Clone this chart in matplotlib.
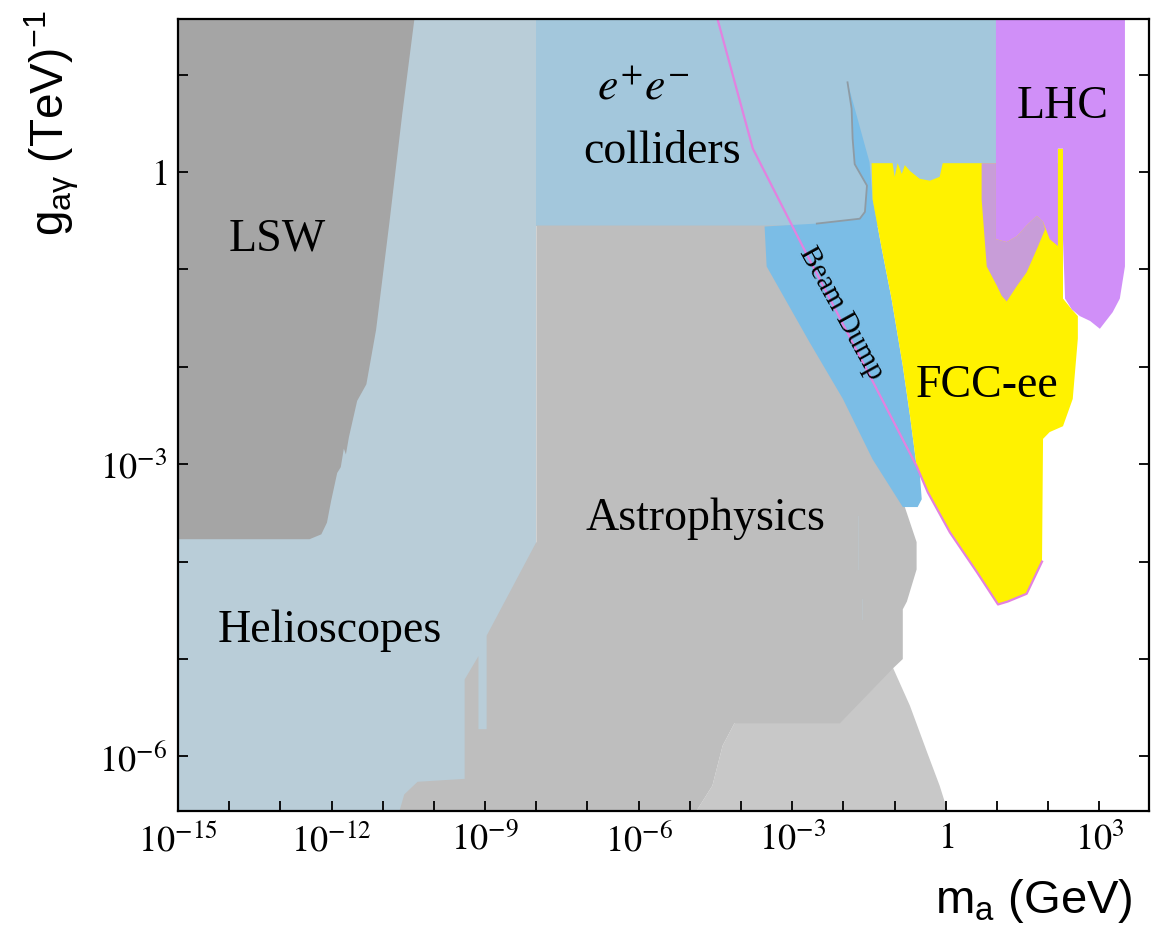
import numpy as np
import matplotlib
matplotlib.use("Agg")
import matplotlib.pyplot as plt
from matplotlib.ticker import FixedLocator, FuncFormatter, NullLocator

plt.rcParams['font.family'] = ['Liberation Serif', 'DejaVu Serif']
plt.rcParams['mathtext.fontset'] = 'stix'
plt.rcParams['mathtext.rm'] = 'Liberation Sans'
plt.rcParams['mathtext.it'] = 'Liberation Sans:italic'
plt.rcParams['mathtext.bf'] = 'Liberation Sans:bold'
plt.rcParams['mathtext.sf'] = 'Liberation Sans'

# ---------------- data (log10 of m_a [GeV], log10 of g [TeV^-1]) ----------------
x_lim = (-15.0, 3.97)
y_lim = (-6.56, 1.57)
x_ticks = list(range(-15, 4))
y_ticks = list(range(-6, 2))

helio_x = [-15.5, -8.0, -8.0, -15.5]
helio_y = [1.7, 1.7, -6.7, -6.7]

lsw_x = [-15.5, -10.35, -10.62, -10.87, -11.13, -11.32, -11.50, -11.66, -11.72,
         -11.76, -11.82, -11.89, -12.01, -12.09, -12.20, -12.43, -15.5]
lsw_y = [1.7, 1.7, 0.59, -0.52, -1.62, -2.18, -2.35, -2.72, -2.90,
         -2.84, -3.03, -3.09, -3.38, -3.60, -3.72, -3.77, -3.77]

ee_x = [-8.0, 0.98, 0.98, -8.0]
ee_y = [1.7, 1.7, -0.55, -0.55]

astro_x = [-8.00, -2.30, -0.80, -0.80, -0.57, -0.57, -0.76, -0.84, -0.84, -1.04,
           -2.07, -4.13, -4.36, -4.56, -5.04, -10.75, -10.58, -10.32, -9.40, -9.40,
           -9.13, -9.13, -8.97, -8.97, -8.00]
astro_y = [-0.55, -0.55, -3.15, -3.44, -3.80, -4.08, -4.41, -4.49, -5.00, -5.10,
           -5.66, -5.66, -5.89, -6.30, -6.70, -6.70, -6.39, -6.26, -6.23, -5.21,
           -4.97, -5.72, -5.72, -4.76, -3.80]

astro_low_x = [-5.04, -4.56, -4.36, -4.13, -1.04, -0.70, -0.37, -0.12, 0.12]
astro_low_y = [-6.70, -6.30, -5.89, -5.66, -5.08, -5.48, -5.95, -6.30, -6.70]

bd_x = [-1.92, -1.49, -1.43, -1.25, -1.06, -0.84, -0.70, -0.57, -0.51, -0.47,
        -0.55, -0.84, -1.43, -2.01, -2.66, -3.50, -3.54, -2.52, -1.68, -1.58,
        -1.54, -1.78, -1.82, -1.84]
bd_y = [0.92, 0.10, -0.28, -0.79, -1.30, -1.99, -2.50, -3.02, -3.08, -3.36,
        -3.44, -3.44, -2.95, -2.33, -1.75, -0.97, -0.56, -0.53, -0.48, -0.41,
        -0.14, 0.08, 0.34, 0.65]

ee_edge_x = [-1.92, -1.84, -1.82, -1.78, -1.54, -1.58, -1.68, -2.52]
ee_edge_y = [0.92, 0.65, 0.34, 0.08, -0.14, -0.41, -0.48, -0.53]

fcc_x = [-1.45, -1.04, -1.00, -0.94, -0.86, -0.80, -0.70, -0.51, -0.31, -0.12,
         -0.06, 2.19, 2.19, 2.29, 2.29, 2.46, 2.58, 2.58, 2.48, 2.29,
         2.03, 1.90, 1.88, 1.58, 1.21, 1.02, 0.61, 0.08, -0.35, -0.55,
         -0.57, -0.70, -0.84, -1.06, -1.25, -1.43]
fcc_y = [0.09, 0.09, -0.05, 0.09, -0.02, 0.07, 0.01, -0.07, -0.09, -0.05,
         0.09, 0.09, 0.24, 0.24, -1.30, -1.41, -1.48, -1.71, -2.33, -2.61,
         -2.67, -2.74, -4.00, -4.33, -4.41, -4.44, -4.11, -3.70, -3.29, -3.05,
         -3.02, -2.50, -1.99, -1.30, -0.79, -0.28]

lilac_x = [0.70, 0.98, 0.98, 1.19, 1.39, 1.58, 1.78, 1.90, 1.94, 1.78,
           1.58, 1.39, 1.19, 1.09, 1.00, 0.90, 0.80, 0.70]
lilac_y = [0.09, 0.09, -0.69, -0.72, -0.66, -0.55, -0.45, -0.51, -0.59, -0.79,
           -1.03, -1.17, -1.33, -1.27, -1.17, -1.07, -0.97, -0.28]

lhc_x = [0.98, 3.50, 3.50, 3.40, 3.26, 3.01, 2.82, 2.62, 2.46, 2.33,
         2.29, 2.29, 2.19, 2.19, 2.03, 1.90, 1.78, 1.58, 1.39, 1.19, 0.98]
lhc_y = [1.7, 1.7, -0.97, -1.30, -1.44, -1.61, -1.53, -1.48, -1.41, -1.30,
         -0.69, 0.24, 0.24, -0.76, -0.69, -0.51, -0.45, -0.55, -0.66, -0.72, -0.69]

bdline_x = [-4.46, -3.77, -2.80, -0.57, -0.35, 0.08, 0.61, 1.02, 1.21, 1.58, 1.88]
bdline_y = [1.57, 0.24, -0.76, -3.02, -3.29, -3.70, -4.11, -4.44, -4.41, -4.33, -4.00]

faint1_x = [-1.72, -1.72]
faint1_y = [-3.53, -4.08]
faint2_x = [-1.64, -1.64]
faint2_y = [-4.38, -4.59]

labels = ["LSW", "Helioscopes", "Astrophysics", "$e^{+}e^{-}$", "colliders",
          "LHC", "FCC-ee"]
label_x = [-13.06, -12.04, -4.69, -5.92, -5.55, 2.29, 0.80]
label_y = [-0.80, -4.82, -3.67, 0.75, 0.10, 0.56, -2.30]

bd_label = "Beam Dump"
bd_label_xy = (-2.05, -1.44)

# ---------------- colours ----------------
c_helio = '#b9cdd8'
c_lsw = '#a5a5a5'
c_ee = '#a3c7dc'
c_astro = '#bebebe'
c_astro_low = '#c8c8c8'
c_bd = '#7bbde6'
c_fcc = '#fff200'
c_lilac = '#c89dd8'
c_lhc = '#d08ff8'
c_line = '#e282e0'

def P(a):
    return 10.0 ** np.asarray(a, dtype=float)

fig = plt.figure(figsize=(11.51, 9.29), dpi=100)
ax = fig.add_axes([178 / 1151, 1 - 812 / 929, 971 / 1151, 792 / 929])
ax.set_xscale('log')
ax.set_yscale('log')

ax.fill(P(helio_x), P(helio_y), color=c_helio, lw=0)
ax.fill(P(lsw_x), P(lsw_y), color=c_lsw, lw=0)
ax.fill(P(ee_x), P(ee_y), color=c_ee, lw=0)
ax.fill(P(astro_low_x), P(astro_low_y), color=c_astro_low, lw=0)
ax.fill(P(astro_x), P(astro_y), color=c_astro, lw=0)
ax.plot(P(faint1_x), P(faint1_y), color='#bdc3c7', lw=0.8)
ax.plot(P(faint2_x), P(faint2_y), color='#bdc3c7', lw=0.8)
ax.fill(P(bd_x), P(bd_y), color=c_bd, lw=0)
ax.plot(P(ee_edge_x), P(ee_edge_y), color='#8e9ba4', lw=1.3)
ax.fill(P(fcc_x), P(fcc_y), color=c_fcc, lw=0)
ax.fill(P(lilac_x), P(lilac_y), color=c_lilac, lw=0)
ax.fill(P(lhc_x), P(lhc_y), color=c_lhc, lw=0)
ax.plot(P(bdline_x), P(bdline_y), color=c_line, lw=1.6)

for t, x, y in zip(labels, label_x, label_y):
    ax.text(P(x), P(y), t, fontsize=33, ha='center', va='baseline',
            family='Liberation Serif')
ax.text(P(bd_label_xy[0]), P(bd_label_xy[1]), bd_label, fontsize=21,
        rotation=-61, rotation_mode='anchor', ha='center', va='center',
        family='Liberation Serif')

ax.set_xlim(P(x_lim[0]), P(x_lim[1]))
ax.set_ylim(P(y_lim[0]), P(y_lim[1]))

def fmt(v, pos):
    e = int(round(np.log10(v)))
    if e % 3:
        return ''
    return '$1$' if e == 0 else r'$10^{%d}$' % e

ax.xaxis.set_major_locator(FixedLocator(P(x_ticks)))
ax.yaxis.set_major_locator(FixedLocator(P(y_ticks)))
ax.xaxis.set_minor_locator(NullLocator())
ax.yaxis.set_minor_locator(NullLocator())
ax.xaxis.set_major_formatter(FuncFormatter(fmt))
ax.yaxis.set_major_formatter(FuncFormatter(fmt))
ax.tick_params(which='major', direction='in', length=7, width=1.3,
               labelsize=26, pad=8, top=False, right=True)
for s in ax.spines.values():
    s.set_linewidth(1.6)

ax.set_xlabel(r'$\mathrm{m_a}$ (GeV)', fontsize=34, family='Liberation Sans',
              math_fontfamily='custom')
ax.set_ylabel(r'$\mathrm{g_{a\gamma}}$ (TeV)$^{-1}$', fontsize=33,
              family='Liberation Sans', math_fontfamily='custom')
ax.xaxis.set_label_coords(0.881, -0.082)
ax.yaxis.set_label_coords(-0.10, 0.87)

fig.savefig('out.png', dpi=100)
